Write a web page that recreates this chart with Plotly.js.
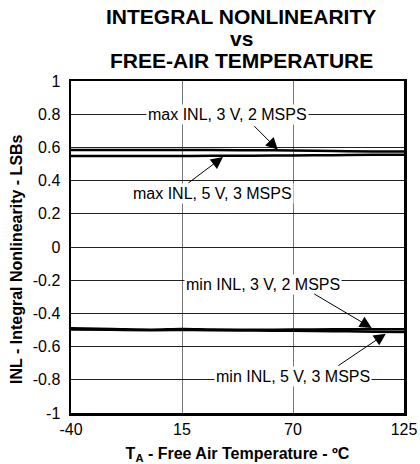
<!DOCTYPE html>
<html><head><meta charset="utf-8">
<script src="https://cdn.plot.ly/plotly-3.0.1.min.js"></script>
<style>html,body{margin:0;padding:0;background:#fff}</style>
</head><body><div id="chart" style="width:420px;height:464px"></div>
<script>
const temps = [-40, -20, 0, 15, 30, 50, 70, 90, 110, 125];
const maxInl3V = [0.585, 0.585, 0.585, 0.584, 0.584, 0.583, 0.582, 0.578, 0.575, 0.575];
const maxInl5V = [0.548, 0.548, 0.548, 0.548, 0.549, 0.550, 0.551, 0.553, 0.555, 0.555];
const minInl3V = [-0.490, -0.494, -0.498, -0.494, -0.497, -0.499, -0.497, -0.496, -0.495, -0.495];
const minInl5V = [-0.497, -0.499, -0.501, -0.500, -0.502, -0.503, -0.505, -0.507, -0.510, -0.512];
const xTicks = [-40, 15, 70, 125];
const yTicks = [-1, -0.8, -0.6, -0.4, -0.2, 0, 0.2, 0.4, 0.6, 0.8, 1];
const titleLines = ['INTEGRAL NONLINEARITY', 'vs', 'FREE-AIR TEMPERATURE'];

const lineStyle = {color: '#000', width: 2.5, shape: 'spline'};
const traces = [maxInl3V, maxInl5V, minInl3V, minInl5V].map(v => ({
  x: temps, y: v, mode: 'lines', line: lineStyle, hoverinfo: 'skip'
}));

const font = {family: 'Liberation Sans, Arial, sans-serif', color: '#000'};
const f = s => Object.assign({size: s}, font);
function label(text, x, y) {
  return {text: text, x: x, y: y, xref: 'x', yref: 'y', showarrow: false,
    bgcolor: '#fff', borderpad: 1, font: f(16)};
}
function arrow(x, y, ax, ay) {
  return {text: '', x: x, y: y, xref: 'x', yref: 'y', ax: ax, ay: ay,
    showarrow: true, arrowhead: 2, arrowsize: 2.4, arrowwidth: 1, arrowcolor: '#000', standoff: 0};
}
const titleY = [1.194, 1.127, 1.063];
const titleAnn = titleLines.map((t, i) => ({
  text: '<b>' + t + '</b>', x: 0.512, y: titleY[i], xref: 'paper', yref: 'paper',
  xanchor: 'center', yanchor: 'middle', showarrow: false, font: f(21)
}));

const layout = {
  width: 420, height: 464,
  margin: {l: 71, r: 16, t: 81, b: 51},
  paper_bgcolor: '#fff', plot_bgcolor: '#fff',
  showlegend: false,
  font: font,
  xaxis: {range: [-40, 125], tickvals: xTicks, ticktext: xTicks.map(String),
    showgrid: true, gridcolor: '#777', gridwidth: 1,
    showline: true, linecolor: '#000', linewidth: 2.5, mirror: true,
    zeroline: false, ticks: '', tickfont: f(16), ticklabelstandoff: 0,
    title: {text: '<b>T<sub>A</sub> - Free Air Temperature - ºC</b>', standoff: 13,
      font: f(16)}},
  yaxis: {range: [-1, 1], tickvals: yTicks, ticktext: yTicks.map(String),
    showgrid: true, gridcolor: '#222', gridwidth: 1,
    showline: true, linecolor: '#000', linewidth: 2.5, mirror: true,
    zeroline: false, ticks: '', tickfont: f(16), ticklabelstandoff: 5},
  annotations: titleAnn.concat([
    {text: '<b>INL - Integral Nonlinearity - LSBs</b>', x: -0.162, y: 0.464,
      xref: 'paper', yref: 'paper', xanchor: 'center', yanchor: 'middle',
      textangle: -90, showarrow: false, font: f(16)},
    label('max INL, 3 V, 2 MSPS', 37.5, 0.8),
    arrow(62.5, 0.586, -25, -25),
    label('max INL, 5 V, 3 MSPS', 30, 0.325),
    arrow(35.3, 0.542, -36, 27),
    label('min INL, 3 V, 2 MSPS', 55, -0.225),
    arrow(109, -0.488, -59, -35),
    label('min INL, 5 V, 3 MSPS', 70, -0.783),
    arrow(116, -0.522, -49, 33)
  ])
};
Plotly.newPlot('chart', traces, layout, {displayModeBar: false, staticPlot: true});
</script></body></html>
